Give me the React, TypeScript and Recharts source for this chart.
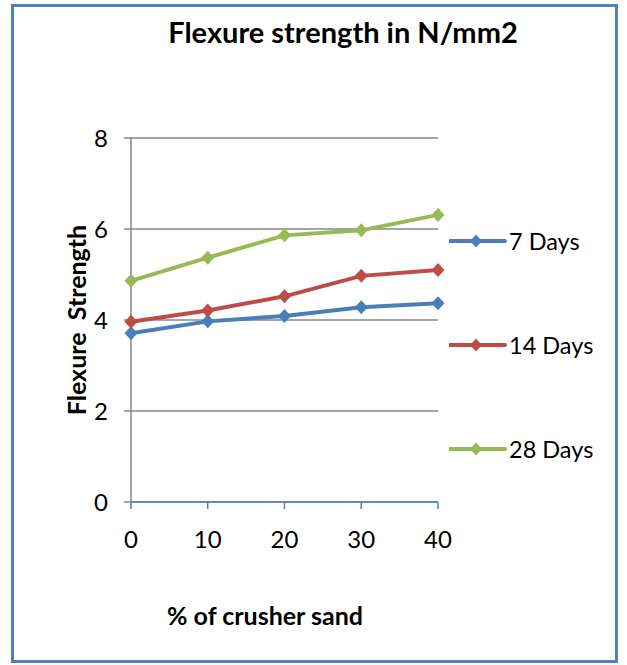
import * as React from 'react';
import { LineChart, Line, XAxis, YAxis, CartesianGrid, Legend } from 'recharts';

const crusherSand = [0, 10, 20, 30, 40];
const days7 = [3.71, 3.97, 4.09, 4.28, 4.37];
const days14 = [3.96, 4.21, 4.52, 4.97, 5.1];
const days28 = [4.86, 5.37, 5.86, 5.97, 6.31];
const yTicks = [0, 2, 4, 6, 8];

const seriesNames = ['7 Days', '14 Days', '28 Days'];
const seriesColors = ['#4A7EBB', '#BE4B48', '#98B954'];

const data = crusherSand.map((x, i) => ({
  x,
  d7: days7[i],
  d14: days14[i],
  d28: days28[i],
}));

const FONT = 'Lato, "Open Sans", sans-serif';

const Diamond = (props: any) => {
  const { cx, cy, fill } = props;
  if (cx == null || cy == null) return null;
  return (
    <polygon
      points={`${cx},${cy - 7} ${cx + 6.5},${cy} ${cx},${cy + 7} ${cx - 6.5},${cy}`}
      fill={fill}
      stroke="none"
    />
  );
};

const LegendContent = (props: any) => {
  const payload = [...(props.payload || [])].sort(
    (a: any, b: any) => seriesNames.indexOf(a.value) - seriesNames.indexOf(b.value)
  );
  return (
    <div style={{ position: 'relative', width: 170, height: 240 }}>
      {payload.map((entry: any, i: number) => (
        <div
          key={`leg-${i}`}
          style={{
            position: 'absolute',
            left: 0,
            top: i * 104,
            height: 26,
            display: 'flex',
            alignItems: 'center',
            fontFamily: FONT,
            fontSize: 23.5,
            color: '#000',
            whiteSpace: 'nowrap',
          }}
        >
          <svg width={58} height={16} style={{ marginRight: 2 }}>
            <line x1={1} y1={8} x2={56} y2={8} stroke={entry.color} strokeWidth={4} strokeLinecap="round" />
            <polygon points="27,1.5 33,8 27,14.5 21,8" fill={entry.color} />
          </svg>
          <span>{entry.value}</span>
        </div>
      ))}
    </div>
  );
};

export default function App() {
  return (
    <div style={{ position: 'absolute', left: 0, top: 0, width: 627, height: 665, background: '#fff' }}>
      <div
        style={{
          position: 'absolute',
          left: 11,
          top: 4,
          width: 601,
          height: 653,
          border: '3px solid #4F81BD',
        }}
      />
      <div
        style={{
          position: 'absolute',
          left: 0,
          width: 686,
          top: 14,
          textAlign: 'center',
          fontFamily: FONT,
          fontWeight: 700,
          fontSize: 29,
          color: '#000',
        }}
      >
        Flexure strength in N/mm2
      </div>
      <div
        style={{
          position: 'absolute',
          left: 76,
          top: 320,
          transform: 'translate(-50%, -50%) rotate(-90deg)',
          fontFamily: FONT,
          fontWeight: 700,
          fontSize: 25,
          color: '#000',
          whiteSpace: 'pre',
        }}
      >
        {'Flexure  Strength'}
      </div>
      <div
        style={{
          position: 'absolute',
          left: 0,
          width: 530,
          top: 600,
          textAlign: 'center',
          fontFamily: FONT,
          fontWeight: 700,
          fontSize: 25,
          color: '#000',
        }}
      >
        % of crusher sand
      </div>
      <LineChart
        width={627}
        height={665}
        data={data}
        margin={{ top: 138, right: 189, bottom: 0, left: 81 }}
        style={{ position: 'absolute', left: 0, top: 0 }}
      >
        <CartesianGrid vertical={false} stroke="#878787" strokeWidth={1.5} />
        <XAxis
          dataKey="x"
          type="number"
          domain={[0, 40]}
          ticks={crusherSand}
          stroke="#4F81BD"
          strokeWidth={1.5}
          tickSize={7}
          tickMargin={22}
          height={163}
          tick={{ fill: '#000', fontSize: 24, fontFamily: FONT }}
        />
        <YAxis
          type="number"
          domain={[0, 8]}
          ticks={yTicks}
          width={50}
          stroke="#878787"
          strokeWidth={1.5}
          tickSize={7}
          tickMargin={16}
          tick={{ fill: '#000', fontSize: 24, fontFamily: FONT }}
        />
        <Legend
          layout="vertical"
          verticalAlign="middle"
          align="center"
          content={<LegendContent />}
          wrapperStyle={{ position: 'absolute', left: 449, top: 228, width: 170 }}
        />
        {['d7', 'd14', 'd28'].map((key, i) => (
          <Line
            key={key}
            dataKey={key}
            name={seriesNames[i]}
            stroke={seriesColors[i]}
            fill={seriesColors[i]}
            strokeWidth={4}
            dot={<Diamond fill={seriesColors[i]} />}
            activeDot={false}
            isAnimationActive={false}
          />
        ))}
      </LineChart>
    </div>
  );
}
